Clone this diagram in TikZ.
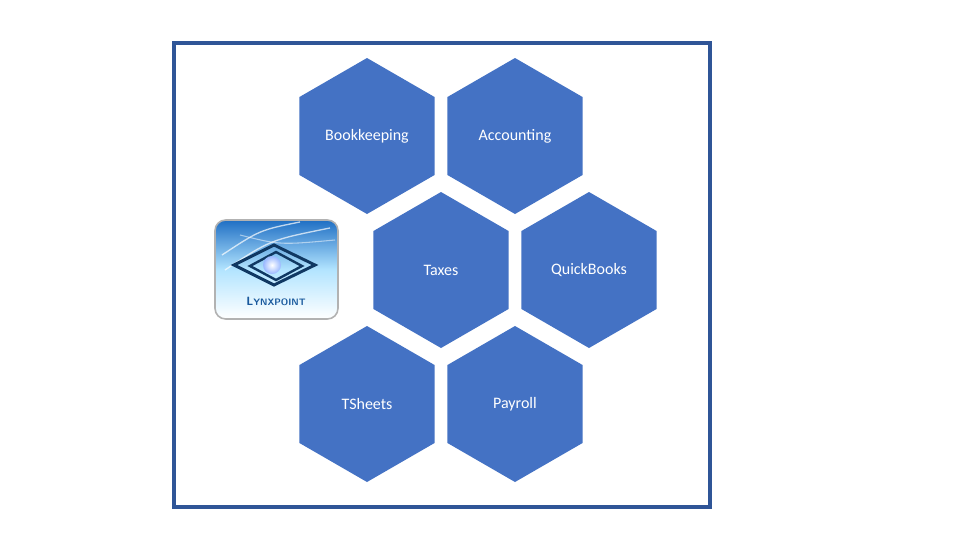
\documentclass[tikz,border=0pt]{standalone}
\usepackage{fontspec}
\setmainfont{Carlito}
\usetikzlibrary{shapes.geometric}
\definecolor{hexblue}{HTML}{4472C4}
\definecolor{framec}{HTML}{2F5597}
\definecolor{logob}{HTML}{1F6FC4}
\tikzset{
  hexa/.style={regular polygon,regular polygon sides=6,shape border rotate=30,minimum size=156*0.75pt,inner sep=0pt,fill=hexblue,draw=none,text=white,font=\fontsize{12}{14}\selectfont},
}
\begin{document}
\begin{tikzpicture}[x=0.75pt,y=-0.75pt]
\useasboundingbox (0,0) rectangle (960,540);
\fill[white] (0,0) rectangle (960,540);
\draw[framec,line width=2.4pt] (174,43) rectangle (710,507);
\node[hexa] (bk) at (367,136) {Bookkeeping};
\node[hexa] (ac) at (515,136) {Accounting};
\node[hexa] (tx) at (441,270) {Taxes};
\node[hexa] (qb) at (589,270) {QuickBooks};
\node[hexa] (ts) at (367,404) {TSheets};
\node[hexa] (pr) at (515,404) {Payroll};
% logo
\shade[top color=logob,bottom color=white,middle color=blue!35!cyan!30,rounded corners=8pt,draw=gray!60,line width=1.2pt] (215,220) rectangle (338,319);
\draw[white,opacity=0.7,line width=1pt] (222,255) .. controls (260,230) .. (300,222);
\draw[white,opacity=0.7,line width=1pt] (225,270) .. controls (270,240) .. (330,228);
\draw[white,opacity=0.5,line width=0.8pt] (240,235) .. controls (280,245) .. (335,240);
\draw[logob!50!black,line width=2.2pt] (234,265) -- (274,245) -- (315,265) -- (274,285) -- cycle;
\draw[logob!50!black,line width=1.8pt] (250,266) -- (276,252) -- (302,266) -- (276,280) -- cycle;
\shade[inner color=white,outer color=cyan!30!blue!40] (272,265) circle (9);
\node[text=logob!80!black,font=\sffamily\bfseries\fontsize{9}{10}\selectfont] (logo) at (276,301) {L\fontsize{7}{8}\selectfont YNXPOINT};
\end{tikzpicture}
\end{document}
